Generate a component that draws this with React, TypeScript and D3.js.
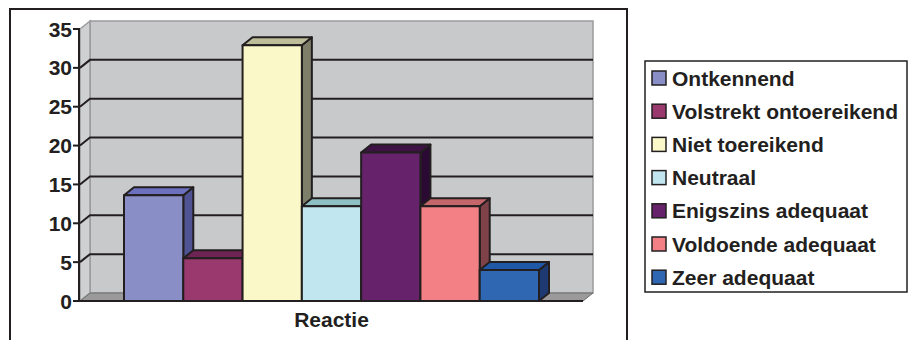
import React from 'react';
import * as d3 from 'd3';

const categories = [
  'Ontkennend',
  'Volstrekt ontoereikend',
  'Niet toereikend',
  'Neutraal',
  'Enigszins adequaat',
  'Voldoende adequaat',
  'Zeer adequaat',
];
const values = [13.6, 5.5, 32.9, 12.2, 19.1, 12.2, 4.0];
const yTicks = [0, 5, 10, 15, 20, 25, 30, 35];
const axisTitle = 'Reactie';

// front / top / side shades per series
const fronts = ['#8a8ec6', '#99396e', '#faf7c8', '#c2e6ef', '#66226a', '#f28084', '#2f67b3'];
const tops = ['#6c71be', '#6e2452', '#bdbd9a', '#8ebfc2', '#3f1245', '#c4666a', '#2058a8'];
const sides = ['#4f5394', '#6e2452', '#7d7f6a', '#8ebfc2', '#2a0a32', '#7e4248', '#1e3a73'];

const FONT = '"Liberation Sans", Arial, sans-serif';
const INK = '#231f20';

export default function App() {
  const width = 909;
  const height = 340;

  const dx = 10;
  const dy = -8;

  const y = d3.scaleLinear().domain([0, 35]).range([301, 29]);
  const x = d3.scaleBand().domain(categories).range([124, 539]).padding(0);

  const floorLeft = 80;
  const floorRight = 583;
  const y0 = y(0);
  const yTop = y(35);

  const poly = (pts: number[][]) => pts.map(p => p.join(',')).join(' ');

  return (
    <svg width={width} height={height} style={{ position: 'absolute', left: 0, top: 0, background: '#fff' }}>
      {/* outer frame */}
      <rect x={10} y={9} width={617} height={345} fill="none" stroke={INK} strokeWidth={2} />

      {/* back wall */}
      <rect x={floorLeft + dx} y={yTop + dy} width={floorRight - floorLeft} height={y0 - yTop}
        fill="#c8c9cb" stroke="#9a9b9d" strokeWidth={1.5} />
      {/* left wall */}
      <polygon points={poly([[floorLeft, yTop], [floorLeft + dx, yTop + dy], [floorLeft + dx, y0 + dy], [floorLeft, y0]])}
        fill="#cfd0d2" stroke="#9a9b9d" strokeWidth={1.5} />
      {/* floor */}
      <polygon points={poly([[floorLeft, y0], [floorLeft + dx, y0 + dy], [floorRight + dx, y0 + dy], [floorRight, y0]])}
        fill="#9a9a9a" stroke="#6d6d6d" strokeWidth={1} />

      {/* gridlines */}
      {yTicks.filter(t => t > 0 && t < 35).map(t => (
        <polyline key={t}
          points={poly([[floorLeft, y(t)], [floorLeft + dx, y(t) + dy], [floorRight + dx, y(t) + dy]])}
          fill="none" stroke={INK} strokeWidth={2} />
      ))}

      {/* bars */}
      {categories.map((c, i) => {
        const x0 = x(c) as number;
        const x1 = x0 + x.bandwidth();
        const yv = y(values[i]);
        return (
          <g key={c} stroke={INK} strokeWidth={2} strokeLinejoin="round">
            <polygon points={poly([[x1, yv], [x1 + dx, yv + dy], [x1 + dx, y0 + dy], [x1, y0]])} fill={sides[i]} />
            <polygon points={poly([[x0, yv], [x0 + dx, yv + dy], [x1 + dx, yv + dy], [x1, yv]])} fill={tops[i]} />
            <rect x={x0} y={yv} width={x1 - x0} height={y0 - yv} fill={fronts[i]} />
          </g>
        );
      })}

      {/* y axis */}
      <line x1={floorLeft - 1} x2={floorLeft - 1} y1={yTop} y2={y0} stroke={INK} strokeWidth={2} />
      <line x1={floorLeft - 1} x2={floorRight} y1={y0} y2={y0} stroke={INK} strokeWidth={2} />
      {yTicks.map(t => (
        <g key={t}>
          <line x1={73} x2={floorLeft} y1={y(t)} y2={y(t)} stroke={INK} strokeWidth={2} />
          <text x={72} y={y(t)} dy="0.36em" textAnchor="end" fontFamily={FONT} fontWeight="bold"
            fontSize={21} fill={INK}>{t}</text>
        </g>
      ))}

      <text x={(floorLeft + floorRight) / 2} y={327} textAnchor="middle" fontFamily={FONT}
        fontWeight="bold" fontSize={21} fill={INK}>{axisTitle}</text>

      {/* legend */}
      <rect x={645} y={61} width={262} height={231} fill="#fff" stroke={INK} strokeWidth={1.5} />
      {categories.map((c, i) => {
        const cy = 78 + i * 33.2;
        return (
          <g key={c}>
            <rect x={652} y={cy - 7} width={14} height={14} fill={fronts[i]} stroke={INK} strokeWidth={1.5} />
            <text x={672} y={cy} dy="0.36em" fontFamily={FONT} fontWeight="bold" fontSize={21} fill={INK}>{c}</text>
          </g>
        );
      })}
    </svg>
  );
}
